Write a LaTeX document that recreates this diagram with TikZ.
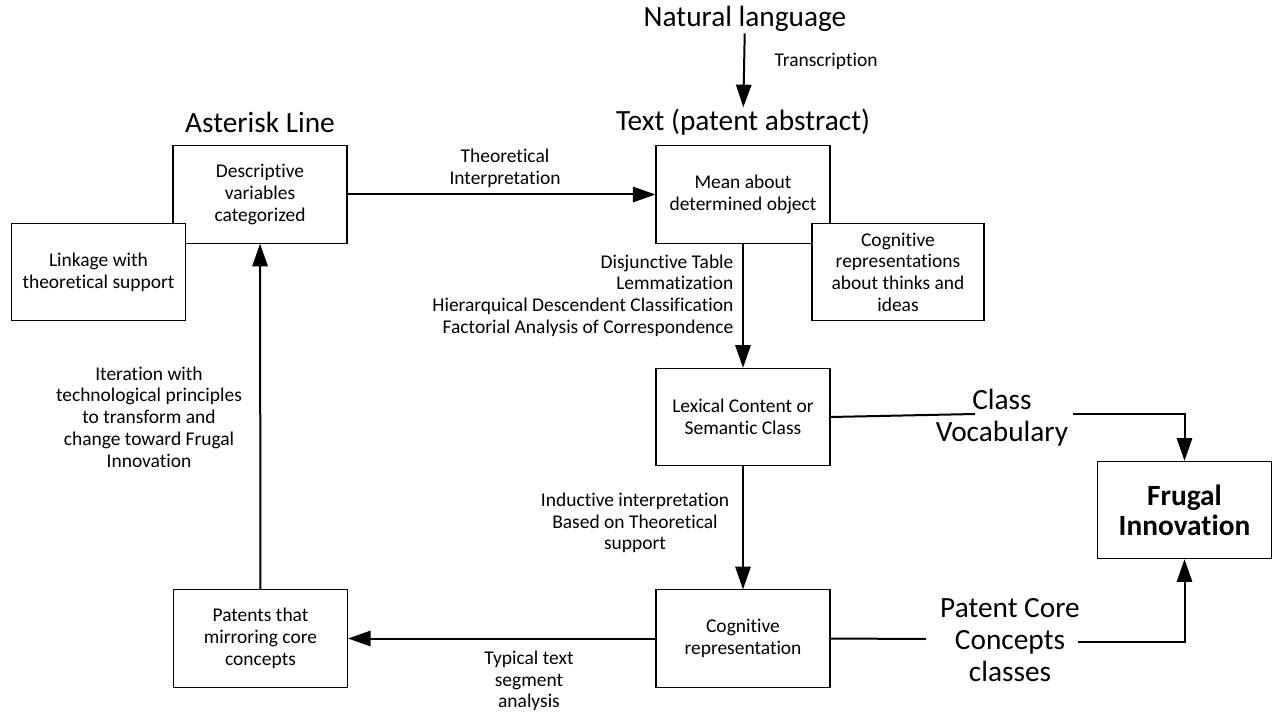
\documentclass[tikz,border=0pt]{standalone}
\usepackage{fontspec}
\setmainfont{Carlito}[Ligatures=NoCommon]
\usetikzlibrary{arrows.meta}

\begin{document}
\begin{tikzpicture}[x=0.75pt,y=-0.75pt]

\tikzset{BoxStyle/.style = {draw, fill=white, line width=0.8pt, minimum width=130.5pt,
                            minimum height=73pt, align=center, inner sep=2pt,
                            font=\fontsize{14.6}{16.3}\selectfont},
         LabelStyle/.style = {align=center, inner sep=1pt, font=\fontsize{14.6}{16.3}\selectfont},
         TitleStyle/.style = {align=center, inner sep=1pt, font=\fontsize{22}{24.2}\selectfont},
         EdgeStyle/.style = {line width=1.5pt, -{Triangle[length=17pt,width=11.5pt]}},
         LineStyle/.style = {line width=1.5pt}}

\useasboundingbox (0,0) rectangle (1275,713);

\node[TitleStyle] (natlang)  at (745,19)  {Natural language};
\node[TitleStyle] (textabs)  at (743,122) {Text (patent abstract)};
\node[TitleStyle] (asterisk) at (260,122) {Asterisk Line};

\node[BoxStyle] (desc)   at (260,194.5) {Descriptive\\variables\\categorized};
\node[BoxStyle] (link)   at (98.5,272)  {Linkage with\\theoretical support};
\node[BoxStyle] (mean)   at (743,194.5) {Mean about\\determined object};
\node[BoxStyle, minimum width=129pt] (cogreps) at (898,272) {Cognitive\\representations\\about thinks and\\ideas};
\node[BoxStyle] (lex)    at (743,417)   {Lexical Content or\\Semantic Class};
\node[BoxStyle] (cog)    at (743,638.5) {Cognitive\\representation};
\node[BoxStyle] (pat)    at (260.5,638.5) {Patents that\\mirroring core\\concepts};
\node[BoxStyle, font=\fontsize{22}{22.5}\selectfont\bfseries] (frugal) at (1184.5,510) {Frugal\\Innovation};

\node[LabelStyle, anchor=west] (transcr) at (773,61) {Transcription};
\node[LabelStyle] (theo) at (505,168.5) {Theoretical\\Interpretation};
\node[LabelStyle, anchor=east, align=right] (disj) at (735,295.5) {Disjunctive Table\\Lemmatization\\Hierarquical Descendent Classification\\Factorial Analysis of Correspondence};
\node[LabelStyle] (induct) at (635,523) {Inductive interpretation\\Based on Theoretical\\support};
\node[LabelStyle] (iter) at (149,417) {Iteration with\\technological principles\\to transform and\\change toward Frugal\\Innovation};
\node[LabelStyle] (typical) at (529,681) {Typical text\\segment\\analysis};
\node[TitleStyle] (classvoc) at (1002,418) {Class\\Vocabulary};
\node[TitleStyle] (patcore) at (1010,640) {Patent Core\\Concepts\\classes};

\coordinate (clsin)  at (975,414);
\coordinate (clsout) at (1073,414);
\coordinate (pcin)   at (926,639);
\coordinate (pcout)  at (1078,642);

\draw[EdgeStyle] (natlang) -- (textabs);
\draw[EdgeStyle] (desc) -- (mean);
\draw[EdgeStyle] (mean) -- (lex);
\draw[EdgeStyle] (lex) -- (cog);
\draw[EdgeStyle] (cog) -- (pat);
\draw[EdgeStyle] (pat) -- (desc);

\draw[LineStyle] (lex.east) -- (clsin);
\draw[EdgeStyle] (clsout) -| (frugal.north);
\draw[LineStyle] (cog.east) -- (pcin);
\draw[EdgeStyle] (pcout) -| (frugal.south);

\end{tikzpicture}
\end{document}
